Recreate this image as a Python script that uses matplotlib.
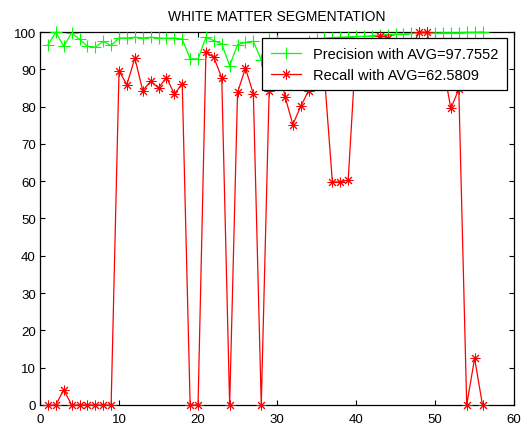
import matplotlib
matplotlib.use("Agg")
import matplotlib.pyplot as plt

plt.rcParams['font.family'] = ['Liberation Sans', 'DejaVu Sans']

x_idx = list(range(1, 57))
precision = [96.6, 99.9, 96.2, 99.7, 98.1, 96.2, 95.9, 97.5, 96.4,
             98.4, 98.4, 98.6, 98.4, 98.6, 98.4, 98.3, 98.4, 98.1,
             92.8, 92.8, 98.6, 97.7, 96.8, 91.0, 96.6, 97.2, 97.5, 92.5,
             98.1, 97.5, 95.0, 94.5, 96.0, 97.5, 98.0, 98.3, 98.5, 98.6, 98.7, 98.8,
             98.8, 99.0, 99.2, 99.3, 99.4, 99.5, 99.6, 99.6, 99.7, 99.7,
             99.8, 99.8, 99.8, 99.9, 99.9, 100.0]
recall = [0, 0, 4.1, 0, 0, 0, 0, 0, 0,
          89.5, 85.9, 93.0, 84.3, 86.8, 85.0, 87.8, 83.4, 86.1,
          0, 0, 94.6, 93.2, 87.7, 0, 83.8, 90.3, 83.4, 0,
          84.3, 94.0, 82.7, 75.2, 80.1, 84.3, 90.0, 88.0, 59.8, 59.8, 60.3, 96.0,
          94.0, 93.0, 99.0, 98.5, 97.0, 95.0, 96.0, 100.0, 100.0, 88.0,
          91.0, 79.5, 84.7, 0, 12.5, 0]

prec_label = "Precision with AVG=97.7552"
rec_label = "Recall with AVG=62.5809"
title = "WHITE MATTER SEGMENTATION"
xticks = [0, 10, 20, 30, 40, 50, 60]
yticks = [0, 10, 20, 30, 40, 50, 60, 70, 80, 90, 100]

fig = plt.figure(figsize=(5.23, 4.27), dpi=100)
ax = fig.add_axes([0.0765, 0.0492, 0.9065, 0.8735])

ax.plot(x_idx, precision, color=(0, 1, 0), lw=0.9, marker='+', ms=8, mew=0.8,
        label=prec_label, clip_on=False, zorder=3)
ax.plot(x_idx, recall, color=(1, 0, 0), lw=0.9, marker=(8, 2, 0), ms=7, mew=0.7,
        label=rec_label, clip_on=False, zorder=3)

ax.set_xlim(0, 60)
ax.set_ylim(0, 100)
ax.set_xticks(xticks)
ax.set_yticks(yticks)
ax.tick_params(direction='in', top=True, right=True, length=3.5, width=0.8,
               labelsize=9.5)
ax.tick_params(axis='x', pad=6)
ax.tick_params(axis='y', pad=3)
for s in ax.spines.values():
    s.set_linewidth(0.9)
ax.set_title(title, fontsize=10, pad=9)

leg = ax.legend(loc='upper right', bbox_to_anchor=(0.985, 0.983), fontsize=10.5,
                fancybox=False, framealpha=1, edgecolor='black',
                borderpad=0.6, handlelength=2.1, labelspacing=0.45,
                handletextpad=0.8, borderaxespad=0)
leg.get_frame().set_linewidth(0.9)
leg.set_zorder(5)

fig.savefig("out.png", dpi=100)
